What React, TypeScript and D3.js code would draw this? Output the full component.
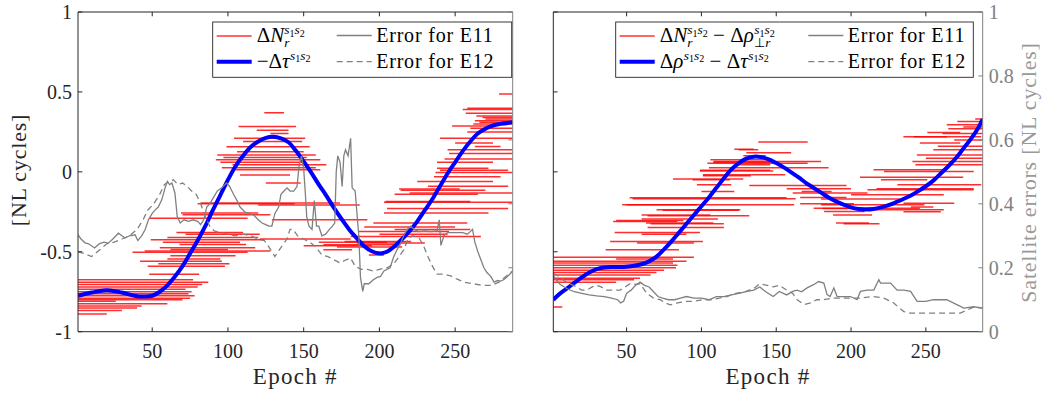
import React from 'react';
import * as d3 from 'd3';

// ---------------- data ----------------
const epochDomain: [number, number] = [1, 288];
const epochTicks = [50, 100, 150, 200, 250];
const nlTicks = [-1, -0.5, 0, 0.5, 1];
const nlTickLabels = ['-1', '-0.5', '0', '0.5', '1'];
const errTicks = [0, 0.2, 0.4, 0.6, 0.8, 1];
const errTickLabels = ['0', '0.2', '0.4', '0.6', '0.8', '1'];

// blue curves [epoch, NL cycles]
const leftBlue: [number, number][] = [
  [1, -0.775], [10, -0.755], [20, -0.74], [30, -0.755], [40, -0.778], [45, -0.78], [50, -0.775], [55, -0.75],
  [60, -0.71], [65, -0.655], [70, -0.59], [75, -0.51], [80, -0.43], [85, -0.34], [90, -0.24], [95, -0.145],
  [100, -0.05], [105, 0.035], [110, 0.1], [115, 0.155], [120, 0.19], [125, 0.213], [130, 0.22], [135, 0.21],
  [140, 0.185], [145, 0.13], [150, 0.065], [155, -0.005], [160, -0.08], [165, -0.15], [170, -0.225], [175, -0.295],
  [180, -0.36], [185, -0.415], [190, -0.465], [195, -0.497], [200, -0.51], [205, -0.5], [210, -0.465], [215, -0.42],
  [220, -0.37], [225, -0.31], [230, -0.24], [235, -0.17], [240, -0.09], [245, -0.01], [250, 0.06], [255, 0.13],
  [260, 0.19], [265, 0.24], [270, 0.27], [275, 0.29], [280, 0.3], [288, 0.31],
];
const rightBlue: [number, number][] = [
  [1, -0.8], [5, -0.765], [10, -0.73], [15, -0.695], [20, -0.66], [25, -0.63], [30, -0.608], [35, -0.598],
  [40, -0.595], [45, -0.595], [50, -0.593], [55, -0.588], [60, -0.578], [65, -0.56], [70, -0.53], [75, -0.485],
  [80, -0.435], [85, -0.38], [90, -0.325], [95, -0.27], [100, -0.215], [105, -0.16], [110, -0.1], [115, -0.04],
  [120, 0.015], [125, 0.055], [130, 0.083], [135, 0.095], [140, 0.092], [145, 0.078], [150, 0.055], [155, 0.028],
  [160, -0.003], [165, -0.035], [170, -0.07], [175, -0.1], [180, -0.13], [185, -0.16], [190, -0.185], [195, -0.205],
  [200, -0.222], [205, -0.232], [210, -0.235], [215, -0.232], [220, -0.222], [225, -0.208], [230, -0.19], [235, -0.17],
  [240, -0.148], [245, -0.12], [250, -0.09], [255, -0.055], [260, -0.01], [265, 0.035], [270, 0.085], [275, 0.145],
  [280, 0.205], [285, 0.275], [288, 0.33],
];

// red ambiguity estimates [startEpoch, endEpoch, NL cycles]
const leftRed: [number, number, number][] = [
  [1, 77, -0.675], [1, 87, -0.69], [1, 83, -0.705], [1, 80, -0.72], [1, 72, -0.735], [1, 76, -0.75], [1, 74, -0.762],
  [1, 78, -0.775], [1, 75, -0.79], [1, 70, -0.8], [1, 26, -0.81], [1, 60, -0.825], [1, 43, -0.84], [1, 40, -0.852],
  [1, 30, -0.868], [1, 20, -0.89],
  [48, 81, -0.64], [47, 98, -0.59], [54, 101, -0.575], [42, 96, -0.56], [60, 95, -0.545], [62, 105, -0.525],
  [37, 113, -0.503], [45, 128, -0.495], [62, 100, -0.485], [55, 118, -0.475], [68, 112, -0.455], [57, 108, -0.44],
  [49, 124, -0.425], [60, 120, -0.41], [72, 121, -0.39], [66, 110, -0.38],
  [48, 113, -0.29], [69, 120, -0.258], [70, 128, -0.268], [82, 174, -0.195], [80, 144, -0.2], [129, 192, -0.3],
  [120, 187, -0.207],
  [124, 137, 0.37], [107, 145, 0.283], [119, 140, 0.26], [128, 140, 0.24], [104, 151, 0.21], [110, 149, 0.19],
  [99, 154, 0.157], [106, 150, 0.125], [93, 158, 0.105], [97, 152, 0.09], [92, 161, 0.075], [95, 150, 0.06],
  [103, 165, 0.044], [96, 158, 0.025], [105, 161, 0.0125], [108, 141, -0.019], [125, 148, -0.07],
  [121, 181, -0.42], [177, 221, -0.435], [163, 214, -0.456], [163, 182, -0.488], [193, 203, -0.52], [150, 195, -0.462],
  [172, 215, -0.47], [181, 267, -0.404], [186, 246, -0.373], [196, 258, -0.32], [190, 250, -0.345], [200, 245, -0.39],
  [185, 230, -0.445], [210, 260, -0.36], [160, 205, -0.44],
  [203, 288, -0.19], [204, 260, -0.185], [205, 285, -0.23], [203, 272, -0.258], [213, 253, -0.108], [214, 270, -0.115],
  [210, 265, -0.14], [220, 288, -0.133], [232, 285, -0.09], [225, 275, -0.06], [236, 280, -0.03], [237, 288, -0.004],
  [238, 272, 0.023], [240, 285, 0.01], [238, 275, 0.06], [243, 288, 0.08], [246, 288, 0.115], [245, 288, 0.1375],
  [263, 280, 0.158], [240, 288, 0.21], [250, 275, 0.18], [248, 273, 0.2875], [258, 288, 0.25], [260, 288, 0.273],
  [262, 288, 0.3], [266, 288, 0.31], [263, 288, 0.32], [270, 288, 0.33], [268, 288, 0.34], [264, 288, 0.35],
  [257, 288, 0.367], [255, 288, 0.39], [258, 288, 0.398], [279, 288, 0.4875],
];
const rightRed: [number, number, number][] = [
  [1, 95, -0.535], [43, 81, -0.545], [1, 90, -0.56], [1, 81, -0.57], [1, 84, -0.585], [1, 83, -0.6], [1, 75, -0.615],
  [1, 70, -0.63], [1, 66, -0.645], [1, 59, -0.665], [1, 55, -0.675], [1, 43, -0.69], [1, 7, -0.845],
  [36, 85, -0.4875], [39, 101, -0.435], [57, 95, -0.445], [42, 99, -0.379], [60, 90, -0.39], [64, 115, -0.348],
  [63, 108, -0.32], [66, 115, -0.325], [41, 84, -0.31], [43, 88, -0.305], [60, 111, -0.295], [60, 106, -0.27],
  [64, 132, -0.275], [70, 126, -0.2375], [74, 125, -0.24], [47, 97, -0.206], [50, 162, -0.206], [54, 163, -0.169],
  [52, 157, -0.162],
  [81, 128, -0.044], [94, 119, -0.05], [97, 120, -0.081], [100, 122, -0.123], [101, 133, -0.025], [101, 156, -0.018],
  [99, 148, 0.005], [99, 146, 0.01], [105, 185, 0.025], [108, 146, 0.06], [108, 180, 0.064], [106, 146, 0.075],
  [104, 171, 0.054], [122, 146, 0.044], [128, 143, 0.1], [125, 138, 0.1375], [122, 135, 0.142], [138, 171, 0.187],
  [130, 160, 0.12],
  [132, 197, -0.085], [157, 200, -0.106], [167, 187, -0.123], [161, 211, -0.133], [166, 197, -0.16], [180, 233, -0.17],
  [166, 202, -0.2], [181, 213, -0.23], [182, 209, -0.248], [188, 214, -0.27], [195, 219, -0.325], [190, 212, -0.32],
  [175, 246, -0.227], [180, 249, -0.206], [209, 262, -0.2375], [235, 269, -0.196], [235, 260, -0.25], [240, 255, -0.22],
  [200, 262, -0.144],
  [206, 275, -0.033], [215, 261, 0.0125], [222, 282, 0.002], [220, 251, -0.05], [231, 287, -0.081], [217, 282, -0.106],
  [211, 282, -0.1125], [242, 264, 0.22], [251, 273, 0.246], [246, 273, 0.18], [255, 290, 0.1375], [244, 290, 0.106],
  [241, 290, 0.064], [243, 290, 0.044], [264, 290, 0.294], [271, 290, 0.315], [283, 290, 0.33], [261, 290, 0.24],
  [269, 290, 0.2], [235, 287, 0.22], [258, 290, 0.16], [250, 290, 0.085], [265, 290, 0.27], [275, 290, 0.28],
];

// satellite errors [epoch, NL cycles] (right axis)
const leftE11: [number, number][] = [
  [1, 0.303], [3, 0.29], [5.6, 0.278], [8, 0.275], [12, 0.262], [15, 0.275], [18, 0.28], [21, 0.277], [24, 0.29],
  [27.7, 0.308], [30, 0.3], [32, 0.293], [35, 0.3], [38.7, 0.303], [40.5, 0.285], [43, 0.3], [45.3, 0.319], [47.5, 0.35],
  [50, 0.37], [52, 0.381], [54, 0.39], [56.3, 0.4125], [58.5, 0.45], [60, 0.47], [61.5, 0.46], [63, 0.465], [65, 0.434],
  [66.5, 0.36], [68.5, 0.34], [71, 0.35], [74, 0.345], [77, 0.35], [80, 0.345], [82, 0.335], [84, 0.35], [86, 0.39],
  [88, 0.4], [90.5, 0.42], [93, 0.44], [96, 0.45], [99, 0.465], [101, 0.455], [103.7, 0.43], [106, 0.41], [108, 0.39],
  [111, 0.375], [114, 0.37], [117, 0.365], [120, 0.35], [122.5, 0.34], [125, 0.335], [127, 0.33], [129, 0.33],
  [131, 0.37], [133.5, 0.39], [135, 0.43], [137, 0.44], [139, 0.45], [141, 0.44], [143.4, 0.44], [145.6, 0.454],
  [147, 0.52], [148.5, 0.55], [150, 0.51], [151, 0.44], [152, 0.36], [153.5, 0.33], [155.5, 0.32], [157, 0.41],
  [158.5, 0.33], [160, 0.33], [162, 0.3], [164.5, 0.305], [167, 0.32], [169, 0.33], [170.5, 0.34], [171.5, 0.5],
  [172.5, 0.55], [174, 0.53], [175.4, 0.454], [176.5, 0.55], [177.6, 0.569], [179.3, 0.55], [181, 0.605], [182, 0.45],
  [184, 0.44], [185, 0.38], [186.4, 0.3], [187.5, 0.17], [189, 0.126], [190, 0.15], [193, 0.15], [196, 0.1625],
  [198.5, 0.17], [200.7, 0.173], [203, 0.19], [207, 0.2], [209.5, 0.235], [212, 0.26], [214, 0.277], [216, 0.3],
  [218.4, 0.32], [220.6, 0.33], [223, 0.32], [226, 0.313], [230, 0.315], [234, 0.313], [238, 0.315], [239.5, 0.35],
  [240.6, 0.27], [242.6, 0.3], [245, 0.31], [250, 0.31], [255, 0.31], [258, 0.305], [260, 0.313], [261.5, 0.32],
  [263, 0.28], [265, 0.25], [267, 0.225], [269, 0.2], [271, 0.185], [273.5, 0.173], [275.7, 0.155], [278, 0.16],
  [280, 0.158], [282, 0.1625], [284, 0.17], [286.7, 0.183], [288, 0.19],
];
const leftE12: [number, number][] = [
  [1, 0.25], [5, 0.245], [10, 0.235], [15, 0.255], [20, 0.275], [25, 0.28], [30, 0.29], [35, 0.3], [40, 0.32],
  [44, 0.35], [47, 0.38], [51, 0.4], [55, 0.43], [58, 0.46], [61, 0.47], [64, 0.475], [67, 0.46], [70, 0.465],
  [73, 0.455], [76, 0.44], [79, 0.43], [82, 0.4], [85, 0.36], [88, 0.33], [91, 0.315], [95, 0.31], [100, 0.305],
  [105, 0.3], [110, 0.305], [115, 0.3], [120, 0.29], [124, 0.285], [127, 0.265], [129, 0.25], [131, 0.235],
  [133, 0.25], [136, 0.27], [139, 0.29], [141, 0.32], [143, 0.32], [146, 0.3], [150, 0.29], [154, 0.28], [158, 0.265],
  [162, 0.24], [166, 0.235], [170, 0.225], [174, 0.215], [178, 0.225], [181, 0.23], [184, 0.205], [188, 0.195],
  [192, 0.195], [196, 0.19], [200, 0.195], [205, 0.2], [209, 0.21], [213, 0.235], [216, 0.256], [219, 0.29],
  [222, 0.3], [226, 0.295], [229, 0.27], [232, 0.235], [235, 0.205], [238, 0.18], [242, 0.18], [247, 0.175],
  [251, 0.165], [256, 0.155], [262, 0.15], [268, 0.145], [274, 0.145], [279, 0.155], [284, 0.175], [288, 0.19],
];
const rightE11: [number, number][] = [
  [1, 0.175], [5, 0.15], [10, 0.135], [15, 0.125], [20, 0.12], [25, 0.115], [30, 0.112], [35, 0.11], [40, 0.105],
  [44, 0.1], [46, 0.09], [48, 0.095], [50, 0.12], [53, 0.13], [56, 0.145], [59, 0.155], [62, 0.145], [65, 0.14],
  [68, 0.125], [71, 0.11], [74, 0.105], [78, 0.1], [82, 0.1], [86, 0.105], [90, 0.11], [95, 0.105], [100, 0.105],
  [105, 0.1], [110, 0.11], [115, 0.11], [120, 0.115], [125, 0.12], [130, 0.125], [135, 0.13], [139, 0.14],
  [143, 0.125], [148, 0.11], [152, 0.126], [157, 0.115], [161, 0.126], [164, 0.13], [167, 0.125], [170.6, 0.137],
  [175, 0.147], [178.3, 0.157], [181.8, 0.152], [184, 0.116], [186, 0.11], [188.5, 0.137], [190.7, 0.11],
  [195, 0.11], [199.7, 0.11], [204, 0.1], [206.3, 0.126], [210.8, 0.13], [215.2, 0.13], [218.6, 0.1625],
  [219.7, 0.152], [226.4, 0.152], [230.8, 0.13], [235.3, 0.13], [239.8, 0.126], [244.2, 0.095], [250, 0.095],
  [255, 0.1], [264, 0.1], [271, 0.084], [275.4, 0.074], [282, 0.078], [288, 0.074],
];
const rightE12: [number, number][] = [
  [1, 0.183], [4, 0.175], [8, 0.16], [12, 0.15], [16.6, 0.14], [20, 0.13], [23.4, 0.13], [27, 0.14], [30, 0.145],
  [33, 0.14], [36.7, 0.13], [41, 0.13], [45.6, 0.13], [49, 0.14], [52.3, 0.15], [56, 0.148], [59, 0.15],
  [63.5, 0.12], [68, 0.105], [72.4, 0.1], [76, 0.09], [79, 0.084], [84, 0.09], [90, 0.095], [95, 0.095],
  [101, 0.1], [106, 0.1], [112, 0.105], [117, 0.11], [123, 0.12], [129, 0.125], [134.9, 0.135], [139, 0.15],
  [143.9, 0.145], [148, 0.14], [152, 0.145], [157, 0.13], [161, 0.12], [164, 0.1], [168.5, 0.085], [173, 0.09],
  [177, 0.1], [181, 0.1], [188.5, 0.105], [197, 0.105], [206, 0.105], [215, 0.11], [222, 0.105], [228.6, 0.09],
  [232, 0.075], [235.3, 0.063], [239.8, 0.058], [250, 0.058], [264, 0.058], [273, 0.058], [277.7, 0.068],
  [282, 0.077], [288, 0.074],
];

// ---------------- layout ----------------
const W = 1058;
const H = 394;
const TOP = 12;
const BOTTOM = 331.7;
const FONT = 'Liberation Serif, Times New Roman, serif';
const AX = '#262626';
const GRAY = '#808080';
const TICK = 4.3;

type Part = { t: string; it?: boolean; s?: number; o?: number; dx?: number };

function MathLine({ x, y, size, parts }: { x: number; y: number; size: number; parts: Part[] }) {
  return (
    <text x={x} y={y} fill="#000" style={{ whiteSpace: 'pre', fontFamily: FONT, fontSize: size }}>
      {parts.map((p, i) => (
        <tspan
          key={i}
          y={y + (p.o ?? 0) * size}
          dx={p.dx ?? 0}
          style={{ fontSize: size * (p.s ?? 1), fontStyle: p.it ? 'italic' : 'normal' }}
        >
          {p.t}
        </tspan>
      ))}
    </text>
  );
}

const SUP = (dx = 0): Part[] => [
  { t: 's', it: true, s: 0.64, o: -0.38, dx },
  { t: '1', s: 0.48, o: -0.26 },
  { t: 's', it: true, s: 0.64, o: -0.38 },
  { t: '2', s: 0.48, o: -0.26 },
];

const leftRow1: Part[] = [{ t: 'Δ' }, { t: 'N', it: true }, { t: 'r', it: true, s: 0.64, o: 0.22 }, ...SUP(-5.2)];
const leftRow2: Part[] = [{ t: '−Δ' }, { t: 'τ', it: true }, ...SUP(0.5)];
const rightRow1: Part[] = [
  { t: 'Δ' }, { t: 'N', it: true }, { t: 'r', it: true, s: 0.64, o: 0.22 }, ...SUP(-5.2),
  { t: ' − Δ', o: 0 }, { t: 'ρ', it: true }, ...SUP(0.5),
  { t: '⊥', s: 0.64, o: 0.22, dx: -20.5 }, { t: 'r', it: true, s: 0.64, o: 0.22 },
];
const rightRow2: Part[] = [
  { t: 'Δ' }, { t: 'ρ', it: true }, ...SUP(0.5), { t: ' − Δ', o: 0 }, { t: 'τ', it: true }, ...SUP(0.5),
];

type PanelProps = {
  id: string;
  x0: number;
  x1: number;
  red: [number, number, number][];
  blue: [number, number][];
  e11: [number, number][];
  e12: [number, number][];
  showLeft: boolean;
  showRight: boolean;
  legend: { bx: number; bw: number; row1: Part[]; row2: Part[]; gx: number };
};

const txt = (size: number, extra: React.CSSProperties = {}): React.CSSProperties => ({
  fontFamily: FONT,
  fontSize: size,
  ...extra,
});

function Panel({ id, x0, x1, red, blue, e11, e12, showLeft, showRight, legend }: PanelProps) {
  const x = d3.scaleLinear().domain(epochDomain).range([x0, x1]);
  const yL = d3.scaleLinear().domain([-1, 1]).range([BOTTOM, TOP]);
  const yR = d3.scaleLinear().domain([0, 1]).range([BOTTOM, TOP]);
  const blueLine = d3
    .line<[number, number]>()
    .x((d) => x(d[0]))
    .y((d) => yL(d[1]))
    .curve(d3.curveCatmullRom.alpha(0.5));
  const grayLine = d3
    .line<[number, number]>()
    .x((d) => x(d[0]))
    .y((d) => yR(d[1]));
  const cx = (x0 + x1) / 2;
  const { bx, bw, row1, row2, gx } = legend;
  return (
    <g>
      <defs>
        <clipPath id={id}>
          <rect x={x0} y={TOP} width={x1 - x0} height={BOTTOM - TOP} />
        </clipPath>
      </defs>
      <g clipPath={`url(#${id})`}>
        {red.map(([s, e, v], i) => (
          <line key={i} x1={x(s)} x2={x(e)} y1={yL(v)} y2={yL(v)} stroke="#ff0000" strokeOpacity={0.82} strokeWidth={1.5} />
        ))}
        <path d={blueLine(blue) ?? ''} fill="none" stroke="#0000ff" strokeWidth={4} />
        <path d={grayLine(e12) ?? ''} fill="none" stroke={GRAY} strokeWidth={1.3} strokeDasharray="6 4" />
        <path d={grayLine(e11) ?? ''} fill="none" stroke={GRAY} strokeWidth={1.3} />
      </g>
      {/* frame */}
      <line x1={x0} x2={x1} y1={TOP} y2={TOP} stroke={AX} strokeWidth={1} />
      <line x1={x0} x2={x1} y1={BOTTOM} y2={BOTTOM} stroke={AX} strokeWidth={1} />
      <line x1={x0} x2={x0} y1={TOP} y2={BOTTOM} stroke={AX} strokeWidth={1} />
      <line x1={x1} x2={x1} y1={TOP} y2={BOTTOM} stroke={GRAY} strokeWidth={1} />
      {epochTicks.map((t) => (
        <g key={t}>
          <line x1={x(t)} x2={x(t)} y1={BOTTOM} y2={BOTTOM - TICK} stroke={AX} />
          <line x1={x(t)} x2={x(t)} y1={TOP} y2={TOP + TICK} stroke={AX} />
          <text x={x(t)} y={358} textAnchor="middle" fill="#262626" style={txt(20)}>
            {t}
          </text>
        </g>
      ))}
      {nlTicks.map((t, i) => (
        <g key={t}>
          <line x1={x0} x2={x0 + TICK} y1={yL(t)} y2={yL(t)} stroke={AX} />
          {showLeft && (
            <text x={x0 - 6} y={yL(t) + 7} textAnchor="end" fill="#262626" style={txt(20)}>
              {nlTickLabels[i]}
            </text>
          )}
        </g>
      ))}
      {errTicks.map((t, i) => (
        <g key={t}>
          <line x1={x1} x2={x1 - TICK} y1={yR(t)} y2={yR(t)} stroke={GRAY} />
          {showRight && (
            <text x={x1 + 6} y={yR(t) + 7} textAnchor="start" fill={GRAY} style={txt(20)}>
              {errTickLabels[i]}
            </text>
          )}
        </g>
      ))}
      <text x={cx} y={384} textAnchor="middle" fill="#262626" style={txt(23, { letterSpacing: 1.3 })}>
        Epoch #
      </text>
      {/* legend */}
      <rect x={bx} y={22} width={bw} height={55.3} fill="#fff" stroke={AX} strokeWidth={0.9} />
      <line x1={bx + 4} x2={bx + 39} y1={36} y2={36} stroke="#ff0000" strokeOpacity={0.8} strokeWidth={1.5} />
      <line x1={bx + 4} x2={bx + 39} y1={61.7} y2={61.7} stroke="#0000ff" strokeWidth={4} />
      <MathLine x={bx + 44} y={42} size={21} parts={row1} />
      <MathLine x={bx + 44} y={67.5} size={21} parts={row2} />
      <line x1={gx} x2={gx + 35} y1={35.5} y2={35.5} stroke={GRAY} strokeWidth={1.3} />
      <line x1={gx} x2={gx + 35} y1={61.7} y2={61.7} stroke={GRAY} strokeWidth={1.3} strokeDasharray="6 4" />
      <text x={gx + 39.5} y={42} fill="#000" style={txt(20, { letterSpacing: 0.8 })}>
        Error for E11
      </text>
      <text x={gx + 39.5} y={67.5} fill="#000" style={txt(20, { letterSpacing: 0.8 })}>
        Error for E12
      </text>
    </g>
  );
}

export default function App() {
  return (
    <svg
      width={W}
      height={H}
      viewBox={`0 0 ${W} ${H}`}
      style={{ position: 'absolute', left: 0, top: 0, background: '#fff', fontFamily: FONT }}
    >
      <rect x={0} y={0} width={W} height={H} fill="#fff" />
      <Panel
        id="clipL"
        x0={78}
        x1={512.7}
        red={leftRed}
        blue={leftBlue}
        e11={leftE11}
        e12={leftE12}
        showLeft={true}
        showRight={false}
        legend={{ bx: 212.7, bw: 299, row1: leftRow1, row2: leftRow2, gx: 336.7 }}
      />
      <Panel
        id="clipR"
        x0={553.3}
        x1={982.7}
        red={rightRed}
        blue={rightBlue}
        e11={rightE11}
        e12={rightE12}
        showLeft={false}
        showRight={true}
        legend={{ bx: 615.7, bw: 357.6, row1: rightRow1, row2: rightRow2, gx: 808.3 }}
      />
      <text
        transform="translate(26,170) rotate(-90)"
        textAnchor="middle"
        fill="#262626"
        style={txt(22, { letterSpacing: 0.8 })}
      >
        [NL cycles]
      </text>
      <text
        transform="translate(1036,172.5) rotate(-90)"
        textAnchor="middle"
        fill="#999"
        style={txt(22, { letterSpacing: 0.8 })}
      >
        Satellite errors [NL cycles]
      </text>
    </svg>
  );
}
